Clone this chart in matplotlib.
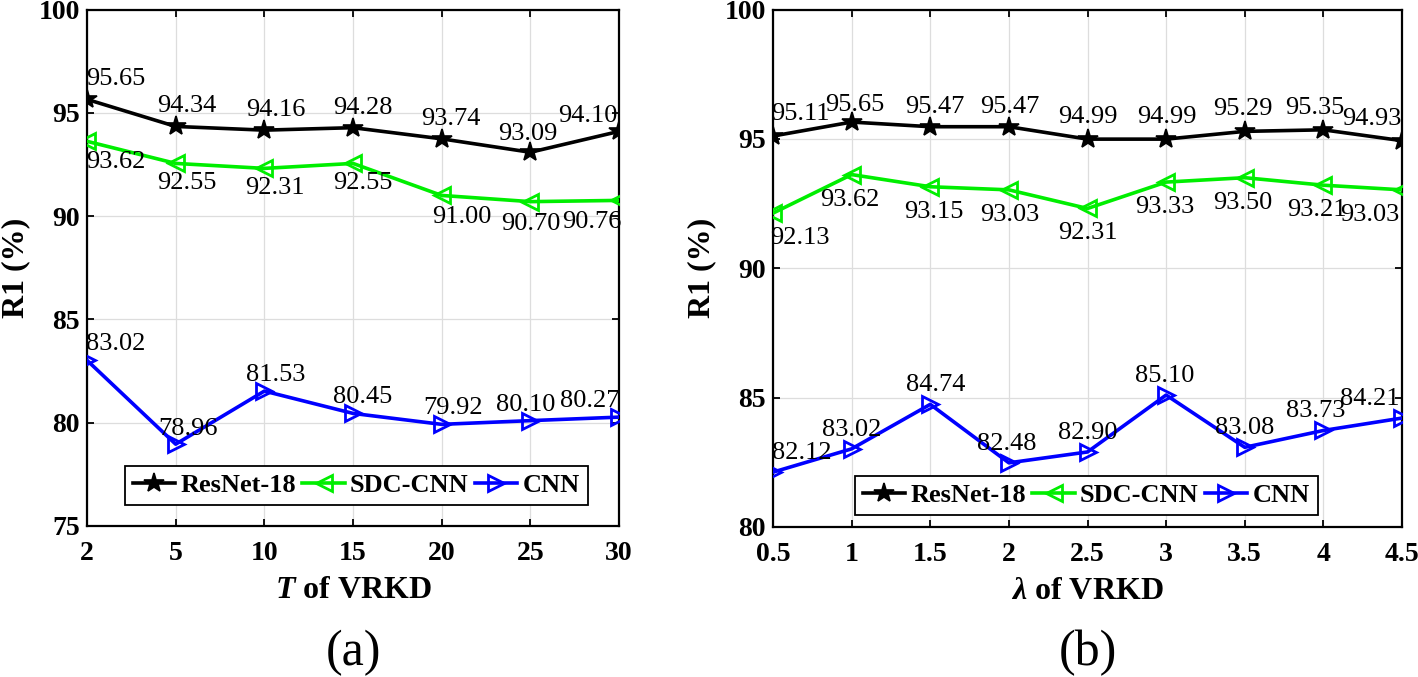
import matplotlib
matplotlib.use('Agg')
import matplotlib.pyplot as plt

# ---------------- data ----------------
t_labels = ['2', '5', '10', '15', '20', '25', '30']
resnet_t = [95.65, 94.34, 94.16, 94.28, 93.74, 93.09, 94.10]
sdc_t = [93.62, 92.55, 92.31, 92.55, 91.00, 90.70, 90.76]
cnn_t = [83.02, 78.96, 81.53, 80.45, 79.92, 80.10, 80.27]

lam_values = [0.5, 1, 1.5, 2, 2.5, 3, 3.5, 4, 4.5]
lam_labels = ['0.5', '1', '1.5', '2', '2.5', '3', '3.5', '4', '4.5']
resnet_l = [95.11, 95.65, 95.47, 95.47, 94.99, 94.99, 95.29, 95.35, 94.93]
sdc_l = [92.13, 93.62, 93.15, 93.03, 92.31, 93.33, 93.50, 93.21, 93.03]
cnn_l = [82.12, 83.02, 84.74, 82.48, 82.90, 85.10, 83.08, 83.73, 84.21]

series_names = ['ResNet-18', 'SDC-CNN', 'CNN']

# ------------- label offsets (pixels) -------------
off_a = {
    'ResNet-18': ([29, 11, 11, 10, 9, -3, -31], [20, 20, 20, 20, 20, 18, 15]),
    'SDC-CNN': ([29, 11, 11, 10, 20, 0, -27], [-21, -20, -20, -20, -22, -22, -22]),
    'CNN': ([29, 12, 11, 10, 11, -5, -29], [16, 15, 16, 16, 16, 16, 16]),
}
off_b = {
    'ResNet-18': ([27, 3, 5, 1, 0, 1, -2, -9, -30], [22, 17, 20, 20, 22, 22, 22, 22, 22]),
    'SDC-CNN': ([27, -2, 4, 1, 0, -1, -2, -6, -32], [-25] * 9),
    'CNN': ([29, 0, 5, -2, 0, -1, 0, -8, -32], [19] * 9),
}

# ---------------- style ----------------
plt.rcParams['font.family'] = ['Liberation Serif', 'DejaVu Serif']
plt.rcParams['mathtext.fontset'] = 'custom'
plt.rcParams['mathtext.rm'] = 'Liberation Serif:bold'
plt.rcParams['mathtext.it'] = 'Liberation Serif:italic:bold'
plt.rcParams['mathtext.bf'] = 'Liberation Serif:bold'

styles = {
    'ResNet-18': dict(color='black', marker='*', ms=15, mfc='black', mec='black', mew=1.2),
    'SDC-CNN': dict(color='#00ee00', marker='<', ms=11, mfc='none', mec='#00ee00', mew=2),
    'CNN': dict(color='#0000ff', marker='>', ms=11, mfc='none', mec='#0000ff', mew=2),
}

PX2PT = 72.0 / 100.0

fig = plt.figure(figsize=(14.18, 6.77), dpi=100)
ax_a = fig.add_axes([87 / 1418, 1 - 526 / 677, (619 - 87) / 1418, (526 - 9.5) / 677])
ax_b = fig.add_axes([773 / 1418, 1 - 527 / 677, (1402 - 773) / 1418, (527 - 9.5) / 677])


def draw(ax, xs, data, offs):
    for name, vals in zip(series_names, data):
        st = styles[name]
        ax.plot(xs, vals, lw=2.6, label=name, **st, zorder=3)
        dxs, dys = offs[name]
        for x, v, dx, dy in zip(xs, vals, dxs, dys):
            ax.annotate(f'{v:.2f}', (x, v), xytext=(dx * PX2PT, dy * PX2PT),
                        textcoords='offset points', ha='center', va='center',
                        fontsize=19, zorder=4, annotation_clip=False)
    ax.grid(True, color='#dddddd', lw=0.9, zorder=0)
    ax.set_axisbelow(True)
    ax.tick_params(direction='in', top=True, right=True, length=5, width=1.3,
                   labelsize=20)
    ax.tick_params(axis='x', pad=11)
    ax.tick_params(axis='y', pad=5)
    for sp in ax.spines.values():
        sp.set_linewidth(1.6)
    ax.set_ylabel('R1 (%)', fontsize=23, fontweight='bold', labelpad=6)


def make_legend(ax, anchor):
    leg = ax.legend(loc='lower left', bbox_to_anchor=anchor, ncol=3,
                    fancybox=False, edgecolor='black', framealpha=1,
                    borderaxespad=0, handlelength=1.6, handletextpad=0.2,
                    columnspacing=0.25, borderpad=0.3,
                    prop=dict(weight='bold', size=19))
    leg.get_frame().set_linewidth(1.3)
    return leg


# (a)
xa = list(range(len(t_labels)))
draw(ax_a, xa, [resnet_t, sdc_t, cnn_t], off_a)
ax_a.set_xlim(0, len(t_labels) - 1)
ax_a.set_ylim(75, 100)
ax_a.set_xticks(xa)
ax_a.set_xticklabels(t_labels)
ax_a.set_yticks([75, 80, 85, 90, 95, 100])
for lab in ax_a.get_xticklabels() + ax_a.get_yticklabels():
    lab.set_fontweight('bold')
ax_a.set_xlabel(r'$T$ of VRKD', fontsize=23, fontweight='bold', labelpad=7)
make_legend(ax_a, (0.071, 0.041))

# (b)
draw(ax_b, lam_values, [resnet_l, sdc_l, cnn_l], off_b)
ax_b.set_xlim(0.5, 4.5)
ax_b.set_ylim(80, 100)
ax_b.set_xticks(lam_values)
ax_b.set_xticklabels(lam_labels)
ax_b.set_yticks([80, 85, 90, 95, 100])
for lab in ax_b.get_xticklabels() + ax_b.get_yticklabels():
    lab.set_fontweight('bold')
ax_b.set_xlabel(r'$\lambda$ of VRKD', fontsize=23, fontweight='bold', labelpad=7)
make_legend(ax_b, (0.130, 0.023))

fig.text(353 / 1418, 1 - 653 / 677, '(a)', fontsize=36, ha='center', va='center')
fig.text(1088 / 1418, 1 - 653 / 677, '(b)', fontsize=36, ha='center', va='center')

fig.savefig('out.png', dpi=100)
